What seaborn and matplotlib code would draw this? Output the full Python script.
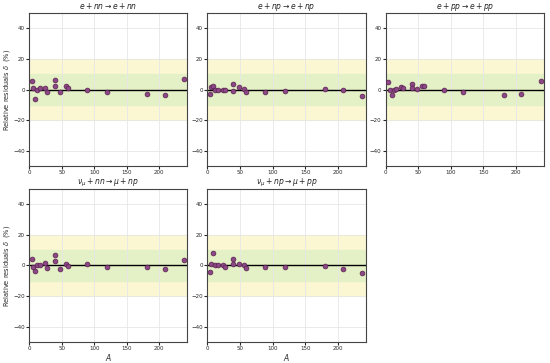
import numpy as np
import seaborn as sns
import matplotlib
matplotlib.use("Agg")
import matplotlib.pyplot as plt

# mass numbers of the nuclei
A = [4, 6, 9, 12, 16, 24, 27, 40, 40, 48, 56, 59, 89, 119, 181, 208, 238]

# relative residuals (%) per channel
d_enn = [5.5, 0.7, -6.0, 0.0, 0.7, 1.0, -1.5, 6.0, 2.6, -1.7, 2.4, 0.7, -0.4, -1.7, -2.8, -3.5, 7.0]
d_enp = [-2.6, 1.7, 2.2, 0.0, 0.0, -0.4, -0.4, 3.9, -0.7, 1.5, 0.4, -1.5, -1.5, -0.7, 0.4, 0.0, -4.1]
d_epp = [4.8, 0.0, -3.3, 0.0, 0.4, 1.5, 1.0, 3.5, 0.7, 0.4, 2.2, 2.0, -0.2, -1.7, -3.3, -3.0, 5.9]
d_mnn = [4.5, -0.9, -3.4, 0.0, 0.4, 1.3, -1.9, 6.7, 2.8, -2.2, 0.9, -0.4, 0.9, -1.1, -1.1, -2.2, 3.7]
d_mnp = [-4.3, 1.1, 8.2, 0.0, 0.0, 0.2, -0.9, 4.3, 0.9, 0.9, 0.2, -1.9, -1.1, -1.1, -0.4, -2.2, -5.2]

titles = [r"$e + nn \rightarrow e + nn$",
          r"$e + np \rightarrow e + np$",
          r"$e + pp \rightarrow e + pp$",
          r"$\nu_\mu + nn \rightarrow \mu + np$",
          r"$\nu_\mu + np \rightarrow \mu + pp$"]
series = [d_enn, d_enp, d_epp, d_mnn, d_mnp]

sns.set_style("whitegrid")
plt.rcParams["font.family"] = ["DejaVu Sans"]
plt.rcParams["font.size"] = 4.5

fig, axes = plt.subplots(2, 3, figsize=(5.5, 3.63), dpi=100)
fig.subplots_adjust(left=0.053, right=0.989, top=0.964, bottom=0.058,
                    wspace=0.127, hspace=0.15)
axes = axes.flatten()

for i, ax in enumerate(axes[:5]):
    ax.axhspan(-20, 20, color="#fbf7d3", zorder=0)
    ax.axhspan(-10, 10, color="#e4f0c6", zorder=0)
    ax.axhline(0, color="black", lw=1, zorder=2)
    sns.scatterplot(x=A, y=series[i], ax=ax, color="#8a4885", edgecolor="#5a2050",
                    s=12, linewidth=0.5, zorder=3)
    ax.set_xlim(0, 243)
    ax.set_ylim(-50, 50)
    ax.set_xticks([0, 50, 100, 150, 200])
    ax.set_yticks([-40, -20, 0, 20, 40])
    ax.grid(True, color="#e6e6e6", lw=0.6)
    ax.set_axisbelow(True)
    ax.set_title(titles[i], fontsize=5.5, pad=3)
    ax.tick_params(axis="both", labelsize=4, length=2, pad=1.2, left=True, bottom=True)
    for sp in ax.spines.values():
        sp.set_edgecolor("#444444")
        sp.set_linewidth(0.8)
    if i % 3 == 0:
        ax.set_ylabel(r"Relative residuals $\delta$  (%)", fontsize=4.8, labelpad=1)
    if i >= 3:
        ax.set_xlabel(r"$A$", fontsize=5.5, labelpad=0.5)

axes[5].axis("off")

plt.savefig("out.png", dpi=100)
